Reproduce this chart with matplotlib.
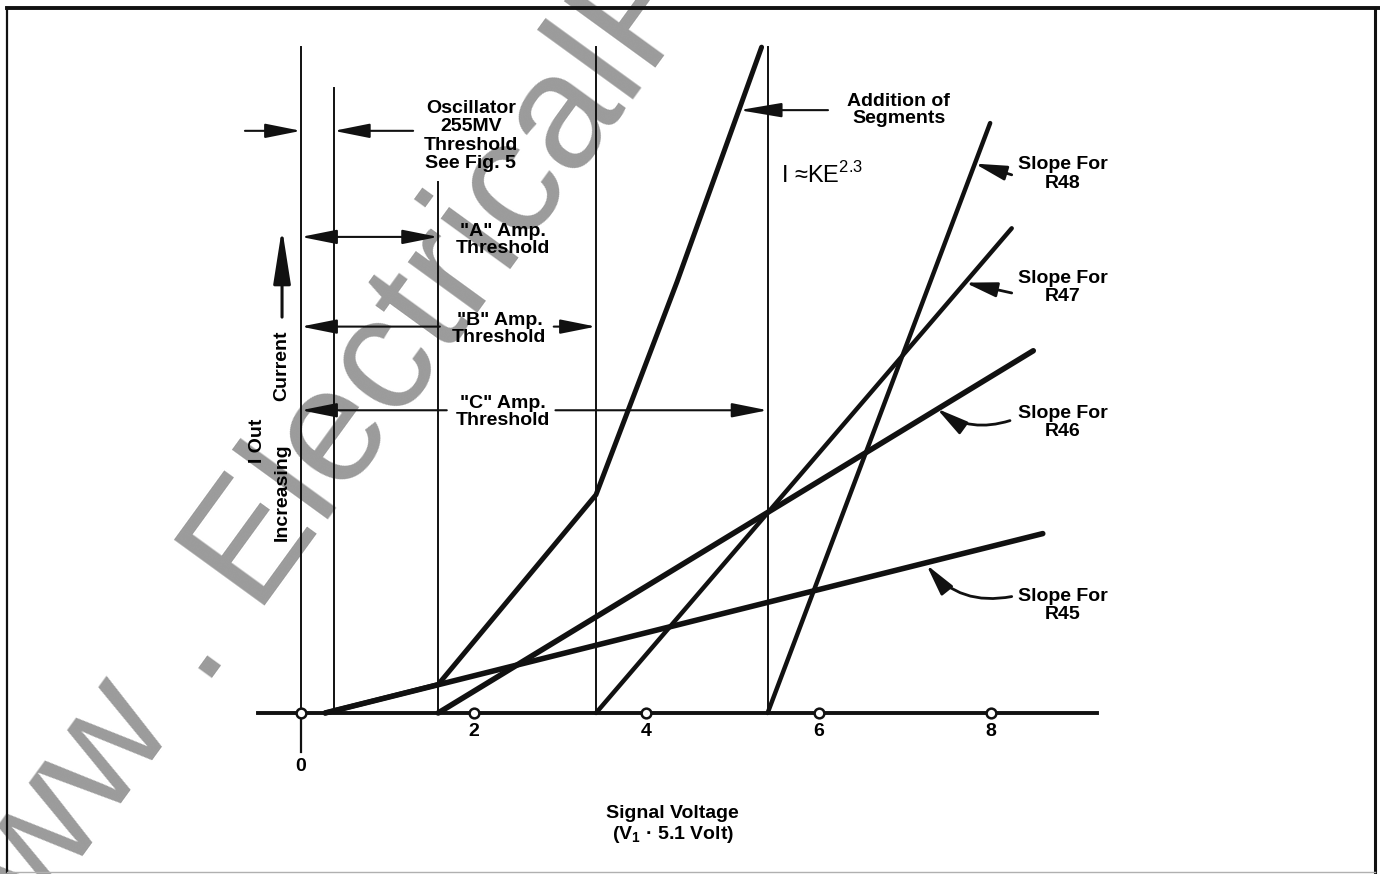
import matplotlib
matplotlib.use('Agg')
import matplotlib.pyplot as plt
from matplotlib.lines import Line2D

plt.rcParams['font.family'] = ['Liberation Sans', 'DejaVu Sans']
plt.rcParams['mathtext.fontset'] = 'custom'
plt.rcParams['mathtext.rm'] = 'Liberation Sans'
plt.rcParams['mathtext.bf'] = 'Liberation Sans:bold'

# threshold lines (signal voltage) and how high they are drawn
threshold_volts = [0.0, 0.38, 1.59, 3.42, 5.41]
threshold_tops = [7.72, 7.25, 6.16, 7.72, 7.72]

# slope segments for each resistor
resistors = ['R45', 'R46', 'R47', 'R48']
slope_start = [0.28, 1.59, 3.42, 5.41]
slope_end_volts = [8.60, 8.49, 8.24, 7.99]
slope_end_current = [2.08, 4.20, 5.62, 6.84]

# addition of segments curve
sum_volts = [0.28, 1.59, 3.42, 4.36, 5.34]
sum_current = [0.0, 0.33, 2.53, 5.0, 7.72]

tick_values = [0, 2, 4, 6, 8]
tick_labels = ['0', '2', '4', '6', '8']

BLACK = '#111111'
FS = 14

fig = plt.figure(figsize=(13.8, 8.74), dpi=100)
ax = fig.add_axes([0, 0, 1, 1])
ax.set_xlim(-3.49, 12.51)
ax.set_ylim(-1.867, 8.267)
ax.axis('off')


def arrow(x0, y0, x1, y1, lw=1.5, hl=1.1, hw=0.22, ms=20, style='-|>', conn='arc3'):
    ax.annotate('', xy=(x1, y1), xytext=(x0, y0),
                arrowprops=dict(arrowstyle=f'{style},head_length={hl},head_width={hw}',
                                lw=lw, color=BLACK, shrinkA=0, shrinkB=0,
                                mutation_scale=ms, connectionstyle=conn))


# watermark
ax.text(-3.85, -3.49, 'www . ElectricalP', rotation=54, rotation_mode='anchor',
        ha='left', va='baseline', fontsize=118, color='#9b9b9b', zorder=0)

# threshold verticals
for x, top in zip(threshold_volts, threshold_tops):
    ax.plot([x, x], [0, top], color=BLACK, lw=1.4, zorder=2)

# slope lines
widths = [4.0, 4.0, 3.2, 3.2]
for s, ev, ec, w in zip(slope_start, slope_end_volts, slope_end_current, widths):
    ax.plot([s, ev], [0, ec], color=BLACK, lw=w, solid_capstyle='round', zorder=3)

ax.plot(sum_volts, sum_current, color=BLACK, lw=3.6, solid_joinstyle='round',
        solid_capstyle='round', zorder=3)

# baseline and tick markers
ax.plot([-0.5, 9.23], [0, 0], color=BLACK, lw=2.8, zorder=3)
ax.plot([0, 0], [-0.06, -0.45], color=BLACK, lw=1.6, zorder=3)
ax.plot(tick_values, [0] * len(tick_values), 'o', mfc='white', mec=BLACK,
        ms=7, mew=1.8, zorder=5)
for v, lab in zip(tick_values, tick_labels):
    y = -0.62 if v == 0 else -0.21
    ax.text(v, y, lab, ha='center', va='center', fontsize=FS, fontweight='bold')

ax.text(4.31, -1.30, 'Signal Voltage\n(V$_\\mathbf{1}$ · 5.1 Volt)', ha='center', va='center',
        fontsize=FS, fontweight='bold', linespacing=1.1)

# y label
ax.text(-0.50, 3.15, 'I Out', rotation=90, ha='center', va='center', fontsize=FS, fontweight='bold')
ax.text(-0.22, 2.56, 'Increasing', rotation=90, ha='center', va='center', fontsize=FS, fontweight='bold')
ax.text(-0.22, 4.03, 'Current', rotation=90, ha='center', va='center', fontsize=FS, fontweight='bold')
arrow(-0.22, 4.59, -0.22, 5.62, lw=2.2, hl=1.4, hw=0.22, ms=24)

# threshold annotations
ax.text(1.97, 6.69, 'Oscillator\n255MV\nThreshold\nSee Fig. 5', ha='center', va='center',
        fontsize=FS, fontweight='bold', linespacing=1.08)
arrow(-0.65, 6.75, 0.0, 6.75)
arrow(1.30, 6.75, 0.38, 6.75)

ax.text(2.34, 5.48, '"A" Amp.\nThreshold', ha='center', va='center', fontsize=FS,
        fontweight='bold', linespacing=1.0)
arrow(0.0, 5.52, 1.59, 5.52, style='<|-|>')

ax.text(2.30, 4.45, '"B" Amp.\nThreshold', ha='center', va='center', fontsize=FS,
        fontweight='bold', linespacing=1.0)
arrow(1.61, 4.48, 0.0, 4.48)
arrow(2.93, 4.48, 3.42, 4.48)

ax.text(2.34, 3.49, '"C" Amp.\nThreshold', ha='center', va='center', fontsize=FS,
        fontweight='bold', linespacing=1.0)
arrow(1.69, 3.51, 0.0, 3.51)
arrow(2.95, 3.51, 5.41, 3.51)

# addition of segments
ax.text(6.93, 6.99, 'Addition of\nSegments', ha='center', va='center', fontsize=FS,
        fontweight='bold', linespacing=1.0)
arrow(6.11, 6.99, 5.08, 6.99, hl=1.3)
ax.text(5.57, 6.24, 'I ≈KE$^{2.3}$', ha='left', va='center', fontsize=17)

# slope labels
label_y = [1.25, 3.37, 4.93, 6.25]
tails = [(8.24, 1.35), (8.22, 3.39), (8.24, 4.87), (8.24, 6.24)]
heads = [(7.25, 1.72), (7.37, 3.53), (7.70, 4.99), (7.81, 6.37)]
curves = ['arc3,rad=-0.3', 'arc3,rad=-0.25', 'arc3', 'arc3']
for name, ly, t, h, c in zip(resistors, label_y, tails, heads, curves):
    ax.text(8.83, ly, f'Slope For\n{name}', ha='center', va='center', fontsize=FS,
            fontweight='bold', linespacing=1.1)
    arrow(t[0], t[1], h[0], h[1], lw=2.0, hl=1.2, hw=0.28, ms=16, conn=c)

# page frame
fig.add_artist(Line2D([0.005, 1.0], [0.9908, 0.9908], transform=fig.transFigure, color=BLACK, lw=2.8))
fig.add_artist(Line2D([0.0052, 0.0052], [0.0023, 0.9908], transform=fig.transFigure, color=BLACK, lw=1.6))
fig.add_artist(Line2D([0.9966, 0.9966], [0.0023, 0.9908], transform=fig.transFigure, color=BLACK, lw=2.2))
fig.add_artist(Line2D([0.005, 0.9966], [0.0023, 0.0023], transform=fig.transFigure, color='#b0b0b0', lw=1.0))

fig.savefig('out.png', dpi=100, facecolor='white')
